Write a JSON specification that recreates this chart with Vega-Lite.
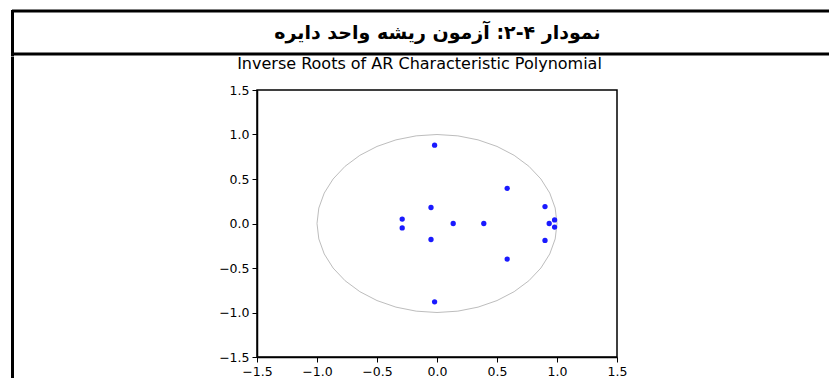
{
  "$schema": "https://vega.github.io/schema/vega-lite/v6.json",
  "padding": {"left": 9, "top": 9, "right": 0, "bottom": 0},
  "background": "white",
  "spacing": -3,
  "datasets": {
    "roots": [
      {"re": -0.02, "im": 0.88},
      {"re": -0.02, "im": -0.88},
      {"re": 0.585, "im": 0.395},
      {"re": 0.585, "im": -0.4},
      {"re": -0.05, "im": 0.18},
      {"re": -0.05, "im": -0.18},
      {"re": 0.9, "im": 0.19},
      {"re": 0.9, "im": -0.19},
      {"re": 0.135, "im": 0.0},
      {"re": 0.39, "im": 0.0},
      {"re": 0.935, "im": 0.0},
      {"re": 0.98, "im": 0.04},
      {"re": 0.98, "im": -0.04},
      {"re": -0.29, "im": 0.05},
      {"re": -0.29, "im": -0.05}
    ],
    "circle": [
      {"i": 0, "cx": 1, "cy": 0},
      {"i": 1, "cx": 0.9848, "cy": 0.1736},
      {"i": 2, "cx": 0.9397, "cy": 0.342},
      {"i": 3, "cx": 0.866, "cy": 0.5},
      {"i": 4, "cx": 0.766, "cy": 0.6428},
      {"i": 5, "cx": 0.6428, "cy": 0.766},
      {"i": 6, "cx": 0.5, "cy": 0.866},
      {"i": 7, "cx": 0.342, "cy": 0.9397},
      {"i": 8, "cx": 0.1736, "cy": 0.9848},
      {"i": 9, "cx": 0, "cy": 1},
      {"i": 10, "cx": -0.1736, "cy": 0.9848},
      {"i": 11, "cx": -0.342, "cy": 0.9397},
      {"i": 12, "cx": -0.5, "cy": 0.866},
      {"i": 13, "cx": -0.6428, "cy": 0.766},
      {"i": 14, "cx": -0.766, "cy": 0.6428},
      {"i": 15, "cx": -0.866, "cy": 0.5},
      {"i": 16, "cx": -0.9397, "cy": 0.342},
      {"i": 17, "cx": -0.9848, "cy": 0.1736},
      {"i": 18, "cx": -1, "cy": 0},
      {"i": 19, "cx": -0.9848, "cy": -0.1736},
      {"i": 20, "cx": -0.9397, "cy": -0.342},
      {"i": 21, "cx": -0.866, "cy": -0.5},
      {"i": 22, "cx": -0.766, "cy": -0.6428},
      {"i": 23, "cx": -0.6428, "cy": -0.766},
      {"i": 24, "cx": -0.5, "cy": -0.866},
      {"i": 25, "cx": -0.342, "cy": -0.9397},
      {"i": 26, "cx": -0.1736, "cy": -0.9848},
      {"i": 27, "cx": 0, "cy": -1},
      {"i": 28, "cx": 0.1736, "cy": -0.9848},
      {"i": 29, "cx": 0.342, "cy": -0.9397},
      {"i": 30, "cx": 0.5, "cy": -0.866},
      {"i": 31, "cx": 0.6428, "cy": -0.766},
      {"i": 32, "cx": 0.766, "cy": -0.6428},
      {"i": 33, "cx": 0.866, "cy": -0.5},
      {"i": 34, "cx": 0.9397, "cy": -0.342},
      {"i": 35, "cx": 0.9848, "cy": -0.1736},
      {"i": 36, "cx": 1, "cy": 0}
    ]
  },
  "vconcat": [
    {
      "width": 817,
      "height": 43,
      "view": {"stroke": null},
      "data": {"values": [{"t": "نمودار ۴\u200f-\u200f۲: آزمون ریشه واحد دایره"}]},
      "layer": [
        {
          "mark": {"type": "rule", "color": "black", "strokeWidth": 3},
          "encoding": {
            "y": {"datum": 1, "type": "quantitative", "scale": {"domain": [0, 1]},
              "axis": {"orient": "left", "domain": true, "domainColor": "black", "domainWidth": 3, "domainCap": "square", "ticks": false, "labels": false, "grid": false, "title": null, "values": []}}
          }
        },
        {
          "mark": {"type": "rule", "color": "black", "strokeWidth": 3},
          "encoding": {
            "y": {"datum": 0, "type": "quantitative",
              "axis": {"orient": "left", "domain": true, "domainColor": "black", "domainWidth": 3, "domainCap": "square", "ticks": false, "labels": false, "grid": false, "title": null, "values": []}}
          }
        },
        {
          "mark": {"type": "text", "font": "DejaVu Sans", "fontSize": 19, "fontWeight": "bold", "color": "black", "align": "center", "baseline": "middle", "dx": 17},
          "encoding": {"text": {"field": "t", "type": "nominal"}}
        }
      ]
    },
    {
      "spacing": 201,
      "hconcat": [
        {
          "width": 1,
          "height": 324,
          "view": {"stroke": null},
          "data": {"values": [{}]},
          "mark": {"type": "point", "opacity": 0},
          "encoding": {
            "y": {"datum": 0, "type": "quantitative",
              "axis": {"domain": true, "domainColor": "black", "domainWidth": 3, "domainCap": "butt", "ticks": false, "labels": false, "grid": false, "title": null, "values": []}}
          }
        },
        {
          "spacing": 11,
          "vconcat": [
            {
              "width": 325,
              "height": 16,
              "view": {"stroke": null},
              "data": {"values": [{"s": "Inverse Roots of AR Characteristic Polynomial"}]},
              "mark": {"type": "text", "font": "DejaVu Sans", "fontSize": 16, "color": "black", "align": "center", "baseline": "middle"},
              "encoding": {"text": {"field": "s", "type": "nominal"}}
            },
            {
              "width": 360,
              "height": 267,
              "view": {"stroke": "black", "strokeWidth": 1.5},
              "layer": [
                {
                  "mark": {"type": "rule", "color": "#cccccc", "strokeWidth": 1, "strokeDash": [4, 3]},
                  "encoding": {"x": {"datum": 0, "type": "quantitative", "title": null, "scale": {"domain": [-1.5, 1.5], "nice": false, "zero": false}}}
                },
                {
                  "mark": {"type": "rule", "color": "#cccccc", "strokeWidth": 1, "strokeDash": [4, 3]},
                  "encoding": {"y": {"datum": 0, "type": "quantitative", "title": null, "scale": {"domain": [-1.5, 1.5], "nice": false, "zero": false}}}
                },
                {
                  "data": {"name": "circle"},
                  "mark": {"type": "line", "color": "#bdbdbd", "strokeWidth": 1},
                  "encoding": {
                    "x": {"field": "cx", "type": "quantitative", "title": null},
                    "y": {"field": "cy", "type": "quantitative", "title": null},
                    "order": {"field": "i", "type": "quantitative"}
                  }
                },
                {
                  "data": {"name": "roots"},
                  "mark": {"type": "point", "filled": true, "color": "#1a1aff", "size": 28, "opacity": 1},
                  "encoding": {
                    "x": {"field": "re", "type": "quantitative", "title": null},
                    "y": {"field": "im", "type": "quantitative", "title": null}
                  }
                }
              ]
            }
          ]
        }
      ]
    }
  ],
  "config": {
    "view": {"stroke": null},
    "axis": {
      "grid": false,
      "domainColor": "black",
      "domainWidth": 1.5,
      "tickColor": "black",
      "tickSize": 5,
      "tickWidth": 1,
      "labelColor": "black",
      "labelFont": "DejaVu Sans",
      "labelFontSize": 12.5,
      "labelPadding": 3,
      "labelFlush": false,
      "labelOverlap": false,
      "values": [-1.5, -1, -0.5, 0, 0.5, 1, 1.5],
      "format": ".1f"
    }
  }
}
